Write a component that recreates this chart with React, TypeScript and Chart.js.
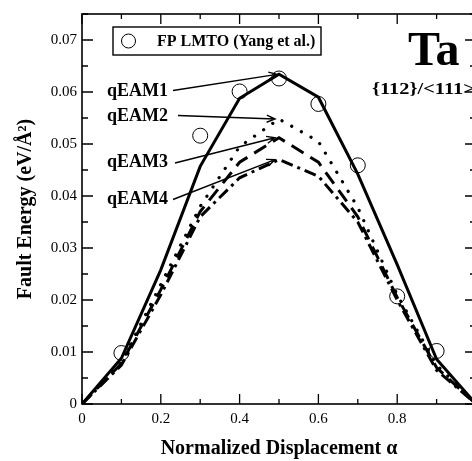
import React, { useEffect, useRef } from 'react';
import { Chart, registerables } from 'chart.js';

Chart.register(...registerables);

// ---- data ----
const alpha = [0, 0.1, 0.2, 0.3, 0.4, 0.5, 0.6, 0.7, 0.8, 0.9, 1.0];
const qEAM1 = [0, 0.0088, 0.0258, 0.0457, 0.0588, 0.0634, 0.059, 0.0442, 0.0268, 0.0086, 0];
const qEAM2 = [0, 0.008, 0.023, 0.038, 0.0495, 0.0548, 0.0505, 0.0378, 0.021, 0.0075, 0];
const qEAM3 = [0, 0.0078, 0.022, 0.037, 0.0465, 0.0512, 0.0465, 0.036, 0.0205, 0.007, 0];
const qEAM4 = [0, 0.0075, 0.021, 0.036, 0.0435, 0.047, 0.0438, 0.035, 0.02, 0.0065, 0];
const lmtoAlpha = [0.1, 0.3, 0.4, 0.5, 0.6, 0.7, 0.8, 0.9];
const lmtoEnergy = [0.0098, 0.0516, 0.0601, 0.0626, 0.0577, 0.0459, 0.0207, 0.0102];
const seriesNames = ['qEAM1', 'qEAM2', 'qEAM3', 'qEAM4'];
const legendLabel = 'FP LMTO (Yang et al.)';
const xTitle = 'Normalized Displacement \u03b1';
const yTitle = 'Fault Energy (eV/\u00c5\u00b2)';
const elementLabel = 'Ta';
const planeLabel = '{112}/<111>';

const SERIF = '"Liberation Serif", "Times New Roman", serif';

const toPts = (ys: number[]) => alpha.map((a, i) => ({ x: a, y: ys[i] }));

const decorPlugin = {
  id: 'decor',
  afterDraw(chart: any) {
    const { ctx, chartArea, scales } = chart;
    const { left, right, top, bottom } = chartArea;
    const xs = scales.x;
    const ys = scales.y;
    ctx.save();
    ctx.strokeStyle = '#000';
    ctx.fillStyle = '#000';

    // frame
    ctx.lineWidth = 1.6;
    ctx.strokeRect(left, top, right - left, bottom - top);

    // ticks (inward, mirrored)
    ctx.lineWidth = 1.3;
    ctx.beginPath();
    for (let i = 0; i <= 10; i++) {
      const px = xs.getPixelForValue(i / 10);
      const len = i % 2 === 0 ? 10 : 5;
      ctx.moveTo(px, bottom);
      ctx.lineTo(px, bottom - len);
      ctx.moveTo(px, top);
      ctx.lineTo(px, top + len);
    }
    for (let i = 0; i <= 15; i++) {
      const py = ys.getPixelForValue(i * 0.005);
      const len = i % 2 === 0 ? 11 : 6;
      ctx.moveTo(left, py);
      ctx.lineTo(left + len, py);
      ctx.moveTo(right, py);
      ctx.lineTo(right - len, py);
    }
    ctx.stroke();

    // legend box
    ctx.lineWidth = 1.4;
    ctx.strokeRect(113, 27, 208, 28);
    ctx.lineWidth = 1;
    ctx.beginPath();
    ctx.arc(128.5, 41, 7, 0, Math.PI * 2);
    ctx.stroke();
    ctx.font = `bold 16px ${SERIF}`;
    ctx.textBaseline = 'alphabetic';
    ctx.textAlign = 'left';
    ctx.fillText(legendLabel, 157, 45.5);

    // series labels with arrows
    const peaks = [qEAM1[5], qEAM2[5], qEAM3[5], qEAM4[5]];
    const labelBase = [96, 121, 167, 204];
    const lineStart = [[173, 90.5], [178, 115.5], [175, 163], [173, 199.5]];
    const tipOffset = [-2, -4, -4, -4];
    ctx.font = `bold 18px ${SERIF}`;
    for (let k = 0; k < 4; k++) {
      ctx.fillText(seriesNames[k], 107, labelBase[k]);
      const tx = xs.getPixelForValue(alpha[5]) + tipOffset[k];
      const ty = ys.getPixelForValue(peaks[k]);
      const [sx, sy] = lineStart[k];
      ctx.lineWidth = 1.4;
      ctx.beginPath();
      ctx.moveTo(sx, sy);
      ctx.lineTo(tx, ty);
      const ang = Math.atan2(ty - sy, tx - sx);
      const ah = 9;
      ctx.moveTo(tx - ah * Math.cos(ang - 0.4), ty - ah * Math.sin(ang - 0.4));
      ctx.lineTo(tx, ty);
      ctx.lineTo(tx - ah * Math.cos(ang + 0.4), ty - ah * Math.sin(ang + 0.4));
      ctx.stroke();
    }

    // element label
    ctx.font = `bold 48px ${SERIF}`;
    ctx.fillText(elementLabel, 408, 65);
    ctx.save();
    ctx.translate(372, 94);
    ctx.scale(1.2, 1);
    ctx.font = `bold 17px ${SERIF}`;
    ctx.fillText(planeLabel, 0, 0);
    ctx.restore();
    ctx.restore();
  },
};

export default function App() {
  const canvasRef = useRef<HTMLCanvasElement | null>(null);

  useEffect(() => {
    document.body.style.overflow = 'hidden';
    const canvas = canvasRef.current;
    if (!canvas) return;
    const lineCommon = {
      borderColor: '#000',
      borderWidth: 3,
      pointRadius: 0,
      tension: 0,
      fill: false,
    };
    const chart = new Chart(canvas, {
      type: 'line',
      data: {
        datasets: [
          { ...lineCommon, label: seriesNames[0], data: toPts(qEAM1), borderWidth: 3 },
          {
            ...lineCommon,
            label: seriesNames[1],
            data: toPts(qEAM2),
            borderWidth: 3.2,
            borderDash: [0.1, 11],
            borderCapStyle: 'round',
          },
          { ...lineCommon, label: seriesNames[2], data: toPts(qEAM3), borderDash: [14, 8] },
          { ...lineCommon, label: seriesNames[3], data: toPts(qEAM4), borderDash: [12, 5, 3, 5] },
          {
            label: legendLabel,
            data: lmtoAlpha.map((a, i) => ({ x: a, y: lmtoEnergy[i] })),
            showLine: false,
            pointRadius: 7.5,
            pointStyle: 'circle',
            pointBorderColor: '#000',
            pointBackgroundColor: 'rgba(0,0,0,0)',
            pointBorderWidth: 1,
            borderColor: '#000',
            backgroundColor: 'rgba(0,0,0,0)',
          },
        ],
      },
      options: {
        responsive: false,
        maintainAspectRatio: false,
        animation: false,
        devicePixelRatio: 1,
        layout: { padding: { left: 0, right: 24, top: 9, bottom: 0 } },
        plugins: { legend: { display: false }, tooltip: { enabled: false } },
        scales: {
          x: {
            type: 'linear',
            min: 0,
            max: 1,
            grid: { display: false, drawTicks: false },
            border: { display: false },
            ticks: {
              stepSize: 0.2,
              padding: 6,
              color: '#000',
              font: { family: SERIF, size: 15 },
              maxRotation: 0,
              callback: (v: any) => {
                const n = Number(v);
                if (Math.abs(n) < 1e-9) return '0';
                if (n > 0.99) return '';
                return n.toFixed(1);
              },
            },
            title: {
              display: true,
              text: xTitle,
              color: '#000',
              font: { family: SERIF, size: 20, weight: 'bold' },
              padding: { top: 0, bottom: 0 },
            },
            afterFit: (s: any) => {
              s.height = 57;
            },
          },
          y: {
            type: 'linear',
            min: 0,
            max: 0.075,
            grid: { display: false, drawTicks: false },
            border: { display: false },
            ticks: {
              stepSize: 0.01,
              includeBounds: false,
              padding: 5,
              color: '#000',
              font: { family: SERIF, size: 15 },
              callback: (v: any) => {
                const n = Number(v);
                if (Math.abs(n) < 1e-9) return '0';
                return n.toFixed(2);
              },
            },
            title: {
              display: true,
              text: yTitle,
              color: '#000',
              font: { family: SERIF, size: 20, weight: 'bold' },
              padding: { top: 14, bottom: 0 },
            },
            afterFit: (s: any) => {
              s.width = 82;
            },
          },
        },
      },
      plugins: [decorPlugin],
    } as any);
    return () => chart.destroy();
  }, []);

  return (
    <div
      style={{
        position: 'fixed',
        left: 0,
        top: 0,
        width: 472,
        height: 461,
        overflow: 'hidden',
        background: '#fff',
      }}
    >
      <canvas ref={canvasRef} width={500} height={461} style={{ display: 'block' }} />
    </div>
  );
}
